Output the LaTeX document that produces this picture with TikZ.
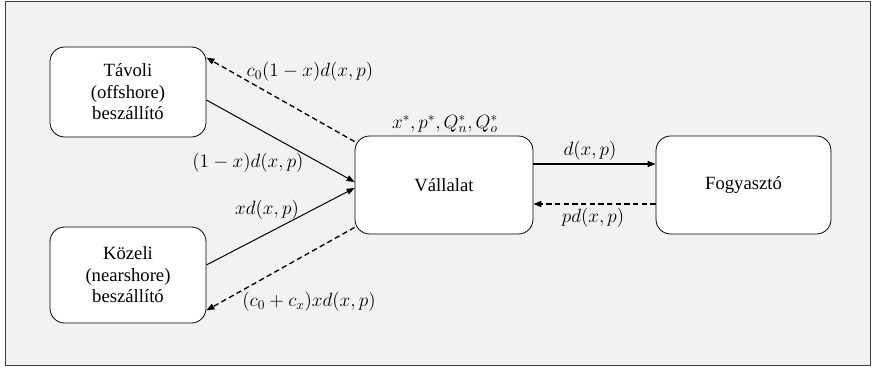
\documentclass[tikz,border=0pt]{standalone}
\usepackage{fontspec}
\setmainfont{Liberation Serif}
\usetikzlibrary{arrows.meta}
\definecolor{bggray}{HTML}{F2F2F2}
\definecolor{framegray}{HTML}{404040}
\begin{document}
\begin{tikzpicture}[x=0.75pt,y=-0.75pt,
  box/.style={draw=black,fill=white,rounded corners=11pt,line width=0.6pt,align=center,
    font=\fontsize{14}{16.2}\selectfont,inner sep=0pt},
  lbl/.style={font=\fontsize{14.5}{17}\selectfont,inner sep=0pt},
  tip/.style={-{Triangle[length=6pt,width=4.5pt]}},
  solidarrow/.style={tip,line width=0.75pt},
  dasharrow/.style={tip,line width=1pt,dash pattern=on 4pt off 2.5pt}]
\useasboundingbox (0,0) rectangle (874,377);
\fill[bggray] (5,1) rectangle (870,365);
\draw[framegray,line width=0.6pt] (5,1) rectangle (870,365);
\node[box,minimum width=117pt,minimum height=67.5pt] (tav) at (128,92) {Távoli\\(offshore)\\beszállító};
\node[box,minimum width=117pt,minimum height=72pt] (koz) at (128,275) {Közeli\\(nearshore)\\beszállító};
\node[box,minimum width=133.5pt,minimum height=73.5pt] (val) at (444,185) {Vállalat};
\node[box,minimum width=131.25pt,minimum height=73.5pt] (fog) at (743.5,185) {Fogyasztó};
% connectors
\draw[dasharrow] ([yshift=-4.5pt]val.north west) -- ([yshift=-8.25pt]tav.north east);
\draw[solidarrow] ([yshift=-6pt]tav.east) -- ([yshift=2.25pt]val.west);
\draw[solidarrow] ([yshift=7.5pt]koz.east) -- ([yshift=-2.25pt]val.west);
\draw[dasharrow] ([yshift=5.25pt]val.south west) -- ([yshift=9.75pt]koz.south east);
\draw[solidarrow,line width=1.1pt] ([yshift=15.75pt]val.east) -- ([yshift=15.75pt]fog.west);
\draw[dasharrow] ([yshift=-14.25pt]fog.west) -- ([yshift=-14.25pt]val.east);
% labels
\node[lbl] (l1) at (310,72) {$c_0(1-x)d(x,p)$};
\node[lbl] (l2) at (248,163) {$(1-x)d(x,p)$};
\node[lbl] (l3) at (267,210) {$xd(x,p)$};
\node[lbl] (l4) at (309,302) {$(c_0+c_x)xd(x,p)$};
\node[lbl] (l5) at (445,124) {$x^*,p^*,Q_n^*,Q_o^*$};
\node[lbl] (l6) at (590,151) {$d(x,p)$};
\node[lbl] (l7) at (593,218) {$pd(x,p)$};
\end{tikzpicture}
\end{document}
